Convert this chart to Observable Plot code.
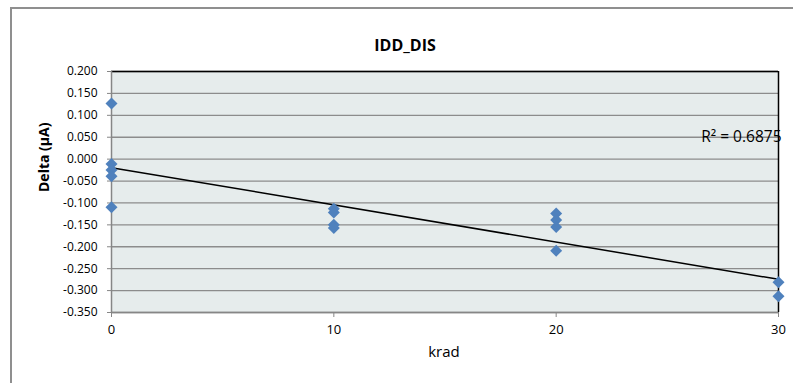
<!DOCTYPE html>
<html>
<head>
<meta charset="utf-8">
<script src="https://cdn.jsdelivr.net/npm/d3@7"></script>
<script src="https://cdn.jsdelivr.net/npm/@observablehq/plot@0.6"></script>
<style>
  html, body { margin: 0; padding: 0; background: #fff; }
  #wrap { position: relative; width: 793px; height: 383px; overflow: hidden; background: #fff; }
  #frame { position: absolute; left: 10px; top: 7px; width: 900px; height: 500px;
           border-left: 2px solid #8f8f8f; border-top: 2px solid #8f8f8f; }
  #chart { position: absolute; left: 0; top: 0; }
</style>
</head>
<body>
<div id="wrap">
  <div id="frame"></div>
  <div id="chart"></div>
</div>
<script>
// ---- data ----
const title = "IDD_DIS";
const xLabel = "krad";
const yLabel = "Delta (µA)";
const r2Label = "R² = 0.6875";
const krad  = [0, 0, 0, 0, 0, 10, 10, 10, 10, 20, 20, 20, 20, 30, 30];
const delta = [0.127, -0.011, -0.025, -0.039, -0.110,
               -0.113, -0.122, -0.150, -0.157,
               -0.124, -0.139, -0.155, -0.209,
               -0.281, -0.313];
const xTicks = [0, 10, 20, 30];
const yTicks = [0.200, 0.150, 0.100, 0.050, 0.000, -0.050, -0.100, -0.150, -0.200, -0.250, -0.300, -0.350];

const data = krad.map((k, i) => ({krad: k, delta: delta[i]}));
const fmt = d => (Math.abs(d) < 1e-9 ? 0 : d).toFixed(3);

const plot = Plot.plot({
  width: 793,
  height: 383,
  marginLeft: 111,
  marginRight: 15,
  marginTop: 71,
  marginBottom: 71,
  style: { fontFamily: "'Open Sans', sans-serif", fontSize: "12px", color: "#000", background: "transparent" },
  x: { domain: [0, 30] },
  y: { domain: [-0.35, 0.2] },
  marks: [
    Plot.frame({ fill: "#e6ecec", stroke: "none" }),
    Plot.ruleY(yTicks, { stroke: "#8c8c8c", strokeWidth: 1.3 }),
    Plot.ruleY([0.2], { stroke: "#000", strokeWidth: 1.5 }),
    Plot.ruleX([30], { stroke: "#000", strokeWidth: 1.5 }),
    Plot.ruleX([0], { stroke: "#868686", strokeWidth: 1.5 }),
    Plot.ruleY([-0.35], { stroke: "#868686", strokeWidth: 1.5 }),
    Plot.axisY({ ticks: yTicks, tickSize: 4, tickPadding: 10, tickFormat: fmt, stroke: "#868686", label: null, fontSize: 12 }),
    Plot.axisX({ ticks: xTicks, tickSize: 5, tickPadding: 7, tickFormat: d => String(d), stroke: "#868686", label: null, fontSize: 13 }),
    Plot.linearRegressionY(data, { x: "krad", y: "delta", ci: 0, stroke: "#000", strokeWidth: 1.5 }),
    Plot.dot(data, { x: "krad", y: "delta", symbol: "diamond2", r: 5.4, fill: "#4f81bd", stroke: "none" }),
    Plot.text([r2Label], { x: () => 30, y: () => 0.05, text: d => d, textAnchor: "end", dx: 3, fontSize: 15.5, fill: "#000" }),
    Plot.text([title], { frameAnchor: "top", text: d => d, dx: -40, dy: -32, fontSize: 16, fontWeight: "bold", fill: "#000" }),
    Plot.text([xLabel], { frameAnchor: "bottom", text: d => d, dx: -1, dy: 44, fontSize: 15, fill: "#000" }),
    Plot.text([yLabel], { frameAnchor: "left", text: d => d, rotate: -90, dx: -66.5, dy: 0, fontSize: 14, fontWeight: "bold", fill: "#000" })
  ]
});
document.getElementById("chart").appendChild(plot);
</script>
</body>
</html>
